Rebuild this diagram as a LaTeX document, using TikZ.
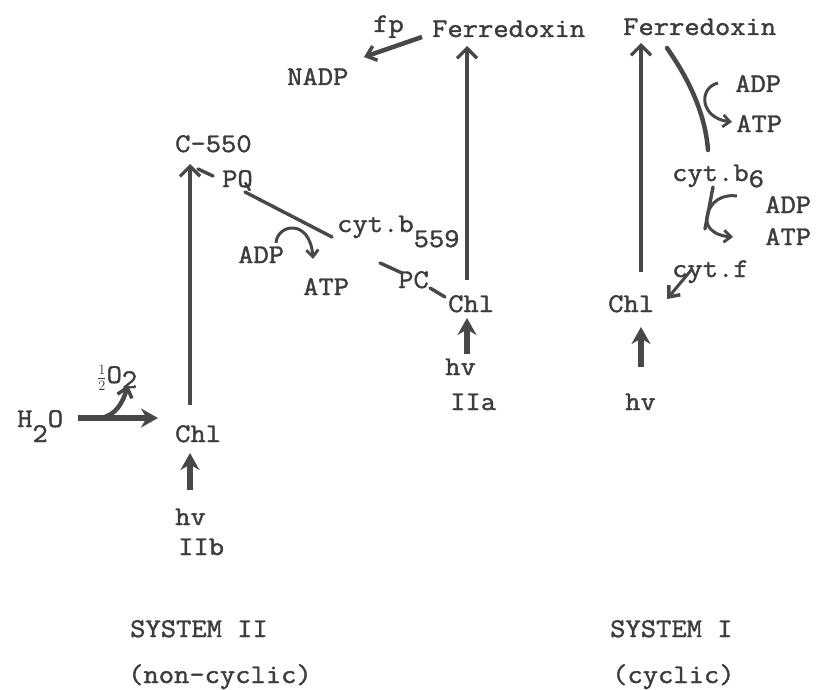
\documentclass[tikz,border=0pt]{standalone}
\usepackage{fontspec}
\newfontfamily\tw{Latin Modern Mono}[FakeStretch=1.1,FakeBold=1.5]
\usetikzlibrary{arrows.meta}
\definecolor{ink}{HTML}{3c3c3c}
\definecolor{pen}{HTML}{484848}
\newcommand{\halfsym}{{\fontsize{22}{22}\selectfont$\frac{1}{2}$}}
\begin{document}
\begin{tikzpicture}[x=1pt,y=-1pt,
  txt/.style={inner sep=0pt, anchor=base west, font=\tw\fontsize{27}{30}\selectfont, text=ink},
  thinarrow/.style={draw=pen, line width=3.4pt, -{Straight Barb[length=10pt,width=20pt,line width=3.2pt]}},
  thickarrow/.style={draw=pen, line width=5.5pt, -{Stealth[length=17pt,width=19pt]}},
  medarrow/.style={draw=pen, line width=4.5pt, -{Straight Barb[length=9pt,width=15pt,line width=3.5pt]}},
  curvearrow/.style={draw=pen, line width=3pt, -{Straight Barb[length=7pt,width=12pt,line width=2.8pt]}},
  plain/.style={draw=pen, line width=3.4pt, line cap=round}]
\useasboundingbox[fill=white] (0,0) rectangle (816,690);

% texts
\node[txt] (fp) at (373,32) {fp};
\node[txt] (ferL) at (432,37) {Ferredoxin};
\node[txt] (nadp) at (287,85) {NADP};
\node[txt] (ferR) at (623,35) {Ferredoxin};
\node[txt] (c550) at (175,152) {C-550};
\node[txt] (pq) at (222,187) {PQ};
\node[txt] (cytb) at (337,232) {cyt.b\raisebox{-15pt}{559}};
\node[txt] (adpL) at (238,263) {ADP};
\node[txt] (atpL) at (303,295) {ATP};
\node[txt] (pc) at (398,288) {PC};
\node[txt] (chA) at (448,312) {Chl};
\node[txt] (hvA) at (445,375) {hv};
\node[txt] (IIa) at (450,410) {IIa};
\node[txt] (o2) at (97,383) {\halfsym O\raisebox{-5pt}{2}};
\node[txt] (h2o) at (17,427) {H\raisebox{-15pt}{2}O};
\node[txt] (chB) at (175,442) {Chl};
\node[txt] (hvB) at (175,525) {hv};
\node[txt] (IIb) at (178,555) {IIb};
\node[txt] (adpR1) at (735,92) {ADP};
\node[txt] (atpR1) at (736,132) {ATP};
\node[txt] (cytb6) at (672,181) {cyt.b\raisebox{-6pt}{6}};
\node[txt] (adpR2) at (765,213) {ADP};
\node[txt] (atpR2) at (765,245) {ATP};
\node[txt] (cytf) at (672,277) {cyt.f};
\node[txt] (chR) at (608,312) {Chl};
\node[txt] (hvR) at (625,410) {hv};
\node[txt] (sys2) at (130,637) {SYSTEM II};
\node[txt] (nc) at (128,683) {(non-cyclic)};
\node[txt] (sys1) at (610,637) {SYSTEM I};
\node[txt] (cyc) at (612,683) {(cyclic)};

% connector end points
\coordinate (fpS) at (422,37);  \coordinate (fpE) at (364,57);
\coordinate (vAS) at (467,280); \coordinate (vAE) at (467,46);
\coordinate (hAS) at (467,354); \coordinate (hAE) at (467,318);
\coordinate (pc1) at (380,263); \coordinate (pc2) at (402,273);
\coordinate (pc3) at (430,288); \coordinate (pc4) at (445,297);
\coordinate (pqS) at (245,192); \coordinate (pqE) at (332,237);
\coordinate (tk1) at (198,169); \coordinate (tk2) at (213,176);
\coordinate (aLS) at (276,243); \coordinate (aLE) at (313,259);
\coordinate (vBS) at (190,405); \coordinate (vBE) at (190,164);
\coordinate (hBS) at (190,490); \coordinate (hBE) at (190,453);
\coordinate (wS) at (78,418);   \coordinate (wE) at (158,418);
\coordinate (oS) at (100,418);  \coordinate (oE) at (128,385);
\coordinate (vRS) at (641,272); \coordinate (vRE) at (641,43);
\coordinate (hRS) at (641,367); \coordinate (hRE) at (641,327);
\coordinate (cRS) at (667,48);  \coordinate (cRE) at (708,150);
\coordinate (aR1S) at (718,83); \coordinate (aR1E) at (732,122);
\coordinate (dS) at (713,187);  \coordinate (dE) at (705,229);
\coordinate (aR2S) at (737,196); \coordinate (aR2E) at (733,237);
\coordinate (fS) at (692,269);  \coordinate (fE) at (667,299);

% System II (left)
\draw[thinarrow] (vBS) -- (vBE);
\draw[thickarrow] (hBS) -- (hBE);
\draw[thickarrow] (wS) -- (wE);
\draw[medarrow] (oS) .. controls (116,416) and (123,402) .. (oE);
\draw[plain] (tk1) -- (tk2);
\draw[plain] (pqS) -- (pqE);
\draw[curvearrow] (aLS) .. controls (277,224) and (310,218) .. (aLE);
\draw[plain] (pc1) -- (pc2);
\draw[plain] (pc3) -- (pc4);
% System IIa
\draw[thinarrow] (vAS) -- (vAE);
\draw[thickarrow] (hAS) -- (hAE);
\draw[medarrow] (fpS) -- (fpE);
% System I (right)
\draw[thinarrow] (vRS) -- (vRE);
\draw[thickarrow] (hRS) -- (hRE);
\draw[plain, line width=4.5pt] (cRS) .. controls (688,78) and (705,112) .. (cRE);
\draw[curvearrow] (aR1S) .. controls (698,88) and (700,118) .. (aR1E);
\draw[plain] (dS) -- (dE);
\draw[curvearrow] (aR2S) .. controls (716,193) and (705,210) .. (707,222) .. controls (709,232) and (720,236) .. (aR2E);
\draw[medarrow, line width=3pt] (fS) -- (fE);
\end{tikzpicture}
\end{document}
